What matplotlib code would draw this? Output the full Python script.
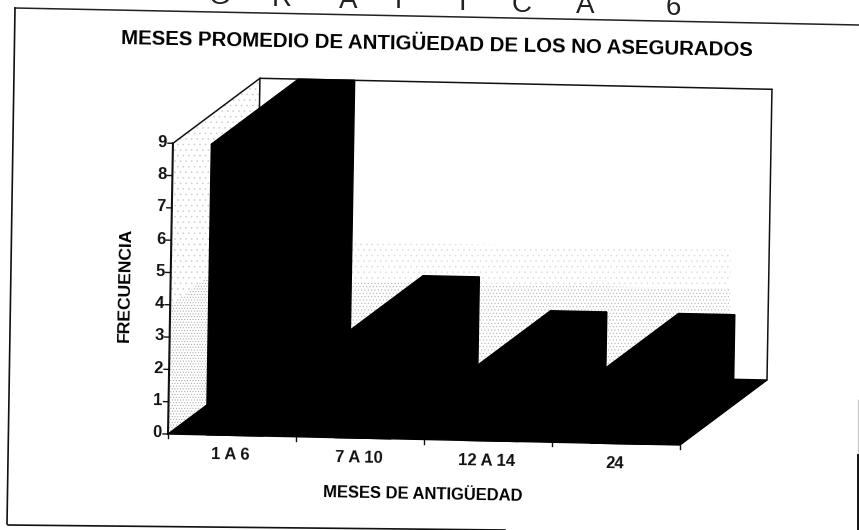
import matplotlib
matplotlib.use("Agg")
import matplotlib.pyplot as plt
from matplotlib.patches import Polygon

# ---- data ----
categories = ["1 A 6", "7 A 10", "12 A 14", "24"]
values = [9, 3, 2, 2]
yticks = list(range(0, 10))
title = "MESES PROMEDIO DE ANTIGÜEDAD DE LOS NO ASEGURADOS"
xlabel = "MESES DE ANTIGÜEDAD"
ylabel = "FRECUENCIA"
header_letters = ["G", "R", "A", "F", "I", "C", "A", "6"]

plt.rcParams["font.family"] = ["Liberation Sans", "DejaVu Sans"]
W, H = 859, 530
fig = plt.figure(figsize=(W / 100, H / 100), dpi=100, facecolor="white")
ax = fig.add_axes([0, 0, 1, 1])
ax.set_xlim(0, W)
ax.set_ylim(H, 0)
ax.axis("off")

# oblique 3D scale: category unit, value unit, depth unit in canvas units
ORI = (168.0, 434.0)
UX = (128.0, 2.75)
UV = (0.55, -32.3)
UD = (87.0, -65.0)
ROT = -1.1
BAR_L, BAR_R = 0.30, 0.74


def P(x, v, d=0.0):
    return (ORI[0] + x * UX[0] + v * UV[0] + d * UD[0],
            ORI[1] + x * UX[1] + v * UV[1] + d * UD[1])


def poly(pts, **kw):
    ax.add_patch(Polygon(pts, closed=True, **kw))


ncat = len(categories)
vmax = yticks[-1]

# wall stipple
plt.rcParams["hatch.linewidth"] = 0.4
for lo, hi, hatch, col in [(0, 4, "......", "#a4a4a4"), (4, vmax, "...", "#cccccc")]:
    poly([P(0, lo, 0), P(0, hi, 0), P(0, hi, 1), P(0, lo, 1)],
         facecolor="white", edgecolor=col, hatch=hatch, lw=0, zorder=1)
for lo, hi, hatch, col in [(0, 2.8, ".....", "#b4b4b4"), (2.8, 4.0, "...", "#dcdcdc")]:
    poly([P(0, lo, 1), P(0, hi, 1), P(3.7, hi, 1), P(3.7, lo, 1)],
         facecolor="white", edgecolor=col, hatch=hatch, lw=0, zorder=1)

# wall outlines
line = dict(color="#111111", lw=1.1, zorder=2, solid_capstyle="round")
for a, b in [(P(0, vmax), P(0, vmax, 1)),
             (P(0, vmax, 1), P(ncat, vmax, 1)),
             (P(ncat, vmax, 1), P(ncat, 0, 1)),
             (P(0, vmax, 1), P(0, 0, 1))]:
    ax.plot([a[0], b[0]], [a[1], b[1]], **line)
a, b = P(0, 0), P(0, vmax)
ax.plot([a[0], b[0]], [a[1], b[1]], color="#111111", lw=1.5, zorder=2)

# floor
poly([P(0, 0), P(ncat, 0), P(ncat, 0, 1), P(0, 0, 1)], facecolor="black", edgecolor="black", lw=1, zorder=3)

# bars
for i, v in enumerate(values):
    l, r = i + BAR_L, i + BAR_R
    z = 4 + i
    kw = dict(facecolor="black", edgecolor="black", lw=1, zorder=z)
    poly([P(l, 0), P(r, 0), P(r, v), P(l, v)], **kw)
    poly([P(l, v), P(r, v), P(r, v, 1), P(l, v, 1)], **kw)
    poly([P(r, 0), P(r, 0, 1), P(r, v, 1), P(r, v)], **kw)

# ticks and tick labels
for t in yticks:
    x0, y0 = P(0, t)
    ax.plot([x0 - 5, x0], [y0 - 0.1, y0], color="#111111", lw=1, zorder=2)
    ax.text(x0 - 6, y0 - 1, str(t), ha="right", va="center", fontsize=12, fontweight="bold",
            rotation=ROT, rotation_mode="anchor", color="#111111")
for i in range(ncat + 1):
    x0, y0 = P(i, 0)
    ax.plot([x0, x0], [y0, y0 + 4], color="#111111", lw=1, zorder=8)
for i, c in enumerate(categories):
    x0, y0 = P(i + 0.49, 0)
    ax.text(x0, y0 + 20, c, ha="center", va="center", fontsize=12, fontweight="bold",
            rotation=ROT, rotation_mode="anchor", color="#111111")

# titles
ax.text(436.5, 45, title, ha="center", va="center", fontsize=14.7, fontweight="bold",
        rotation=ROT, rotation_mode="anchor", color="black")
ax.text(423, 494, xlabel, ha="center", va="center", fontsize=11.9, fontweight="bold",
        rotation=ROT, rotation_mode="anchor", color="black")
ax.text(125, 285, ylabel, ha="center", va="center", fontsize=12.6, fontweight="bold",
        rotation=90 + ROT, rotation_mode="anchor", color="black")

# page header, cut by the top edge of the scan as in the reference
for ch, px, py in zip(header_letters, [219, 282, 348, 403, 462, 522, 585, 673],
                      [4, 6, 8, 8, 10, 12, 13, 15]):
    ax.text(px, py, ch, ha="center", va="baseline", fontsize=20, color="#222222", clip_on=True)

# scan frame
ax.plot([15, W], [8, 25], color="#222222", lw=1.1)
ax.plot([15, 7, 7 + 1, 505], [8, 524, 525, 530], color="#111111", lw=1.2)
ax.plot([858, 858], [400, 455], color="#cccccc", lw=1)
ax.plot([858, 858], [455, H], color="#111111", lw=1.4)

fig.savefig("out.png", dpi=100)
